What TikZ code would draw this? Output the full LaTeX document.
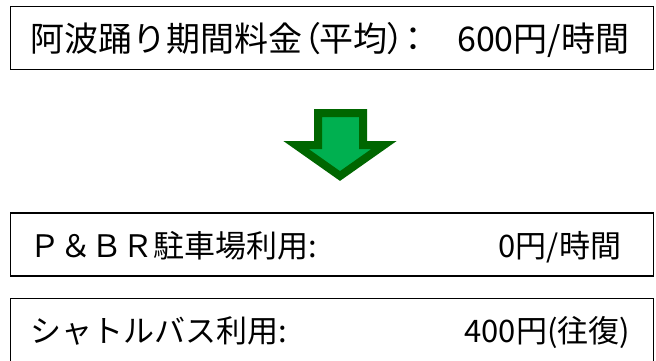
\documentclass[tikz,border=0pt]{standalone}
\usepackage{fontspec}
\setmainfont{Noto Sans CJK JP}
\newfontfamily\paltfont[RawFeature=+palt]{Noto Sans CJK JP}
\usepackage{tikz}
\definecolor{arrowfill}{RGB}{0,176,80}
\definecolor{arrowline}{RGB}{0,102,0}
\tikzset{
    farebox/.style={
    rectangle,draw=black,line width=1.6pt,minimum width=643pt,minimum height=63pt,inner sep=0pt
    },
    bigtext/.style={
    inner sep=0pt,font=\fontsize{34}{34}\selectfont
    },
    smalltext/.style={
    inner sep=0pt,font=\fontsize{31}{31}\selectfont
    },
    downarrow/.style={
    draw=arrowline,fill=arrowfill,line width=8pt,line join=miter
    },
}

\begin{document}
\begin{tikzpicture}[x=1pt, y=-1pt]
   \useasboundingbox (0,0) rectangle (656,360);
   \node[farebox] (awa) at (332,37.8) {};
   \node[farebox] (pbr) at (332,244.5) {};
   \node[farebox] (bus) at (332,330) {};

   \node[bigtext,anchor=base west] (awaname) at ([xshift=21pt,yshift=-14pt]awa.west) {阿波踊り期間料金{\paltfont （平均）：}};
   \node[bigtext,anchor=base east] (awafee) at ([xshift=-25pt,yshift=-14pt]awa.east) {600円/時間};
   \node[smalltext,anchor=base west] (pbrname) at ([xshift=20pt,yshift=-12.5pt]pbr.west) {Ｐ＆ＢＲ駐車場利用:};
   \node[smalltext,anchor=base east] (pbrfee) at ([xshift=-33pt,yshift=-12.5pt]pbr.east) {0円/時間};
   \node[smalltext,anchor=base west] (busname) at ([xshift=21pt,yshift=-12.8pt]bus.west) {シャトルバス利用:};
   \node[smalltext,anchor=base east] (busfee) at ([xshift=-24pt,yshift=-12.8pt]bus.east) {400円(往復)};

   \draw[downarrow] (318,113) -- (363,113) -- (363,145) -- (384,145) -- (340,176)
        -- (296,145) -- (318,145) -- cycle;
  \end{tikzpicture}
\end{document}
